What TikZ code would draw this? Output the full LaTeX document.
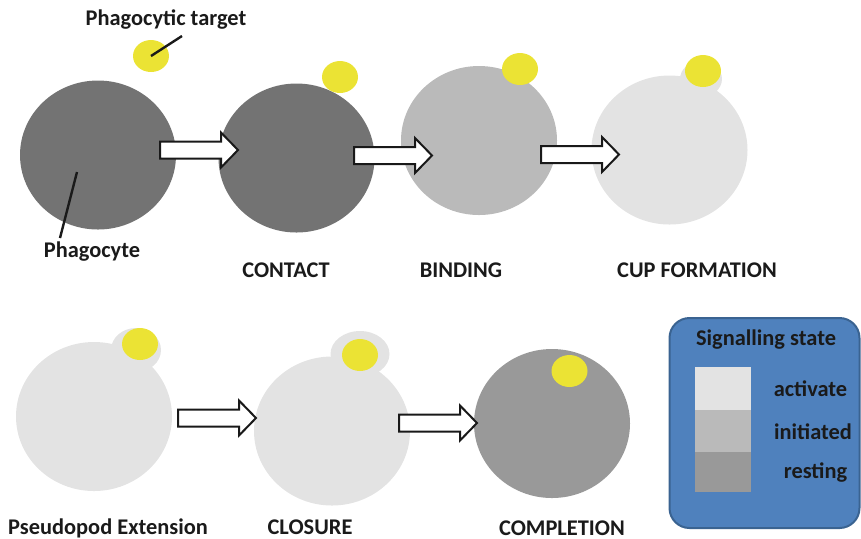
\documentclass[tikz,border=0pt]{standalone}
\usepackage{fontspec}
\setmainfont{Carlito}
\usetikzlibrary{shapes.geometric}

\definecolor{restgray}{HTML}{737373}
\definecolor{initgray}{HTML}{BABABA}
\definecolor{actgray}{HTML}{E3E3E3}
\definecolor{donegray}{HTML}{999999}
\definecolor{targetyellow}{HTML}{EBE334}
\definecolor{legendblue}{HTML}{4F81BD}
\definecolor{legendedge}{HTML}{3A6391}
\definecolor{textdark}{HTML}{1A1A1A}

\tikzset{
  cell/.style={ellipse, inner sep=0pt, minimum width=78pt, minimum height=74.5pt},
  target/.style={ellipse, inner sep=0pt, fill=targetyellow, minimum width=18pt, minimum height=16pt},
  bump/.style={ellipse, inner sep=0pt, fill=actgray},
  lbl/.style={font=\fontsize{11.2}{13.5}\selectfont\bfseries, text=textdark, inner sep=0pt},
  blockarr/.style={draw=black!90, fill=white, line width=1pt, line join=miter}
}

\begin{document}
\begin{tikzpicture}[x=0.5pt, y=-0.5pt]
  \useasboundingbox (0,0) rectangle (861,538);

  % Row 1: the cells
  \node[cell, fill=restgray] (cellA) at (98,155) {};
  \node[cell, fill=restgray] (cellB) at (296.5,158) {};
  \node[cell, fill=initgray] (cellC) at (479,140.5) {};
  \node[bump, minimum width=21pt, minimum height=18pt] (bumpD) at (701,79) {};
  \node[cell, fill=actgray] (cellD) at (669.5,150) {};

  % Row 2: the cells
  \node[bump, minimum width=25pt, minimum height=22pt] (bumpE) at (136,350) {};
  \node[cell, fill=actgray] (cellE) at (94,416.5) {};
  \node[bump, minimum width=29.5pt, minimum height=23pt] (bumpF) at (360,354) {};
  \node[cell, fill=actgray] (cellF) at (332,431) {};
  \node[cell, fill=donegray] (cellG) at (552,423.5) {};

  % Phagocytic targets
  \node[target] (tgtA) at (151,56) {};
  \node[target] (tgtB) at (340,77) {};
  \node[target] (tgtC) at (520,69) {};
  \node[target] (tgtD) at (703,71) {};
  \node[target] (tgtE) at (140,344) {};
  \node[target] (tgtF) at (360,355) {};
  \node[target] (tgtG) at (569.5,371) {};

  % Block arrows between the stages
  \foreach \ax/\ay in {160/150, 354/155.5, 541/154.5, 178/418, 399/423}
    \draw[blockarr] (\ax,\ay) ++(0,-8.5) -- ++(61,0) -- ++(0,-9) -- ++(17,17.5)
      -- ++(-17,17.5) -- ++(0,-9) -- ++(-61,0) -- cycle;

  % Pointer labels
  \node[lbl] (txtTarget) at (166,20) {Phagocytic target};
  \node[lbl] (txtCell) at (92,252) {Phagocyte};
  \coordinate (ptrTarget) at (182,36);
  \coordinate (ptrCell) at (60,238);
  \coordinate (inCell) at (77,172);
  \draw[line width=1.2pt, textdark] (tgtA.center) -- (ptrTarget);
  \draw[line width=1.2pt, textdark] (inCell) -- (ptrCell);

  % Stage names
  \node[lbl] (nameB) at (286,270) {CONTACT};
  \node[lbl] (nameC) at (461,270) {BINDING};
  \node[lbl] (nameD) at (697,270) {CUP FORMATION};
  \node[lbl] (nameE) at (108,528) {Pseudopod Extension};
  \node[lbl] (nameF) at (310,527) {CLOSURE};
  \node[lbl] (nameG) at (562,528) {COMPLETION};

  % Legend
  \node[draw=legendedge, fill=legendblue, line width=1pt, rounded corners=10pt,
        minimum width=95pt, minimum height=105pt] (legend) at (764.5,423) {};
  \node[lbl] (legTitle) at (766,340) {Signalling state};
  \fill[actgray] (695,367) rectangle (751,410);
  \fill[initgray] (695,410) rectangle (751,452);
  \fill[donegray] (695,452) rectangle (751,492);
  \node[lbl] (legAct) at (810.5,389) {activate};
  \node[lbl] (legInit) at (813,432) {initiated};
  \node[lbl] (legRest) at (815.5,473) {resting};
\end{tikzpicture}
\end{document}
